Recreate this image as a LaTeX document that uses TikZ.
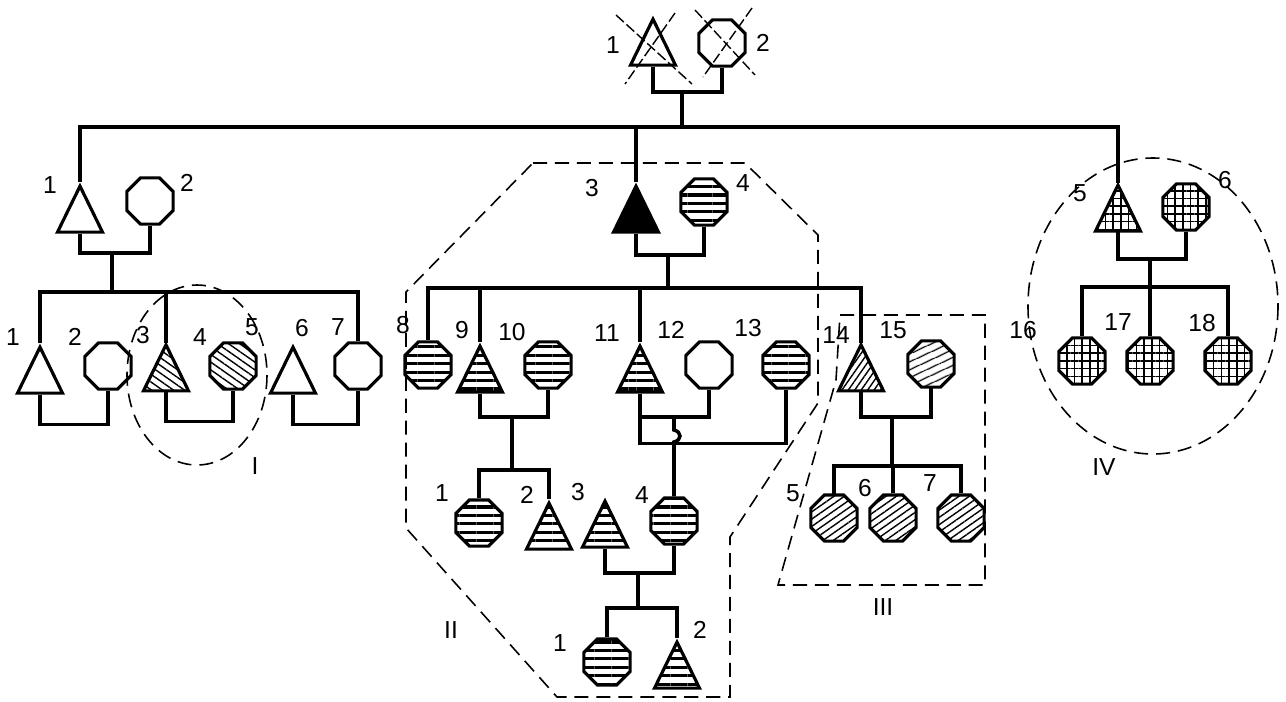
\documentclass[tikz,border=0pt]{standalone}
\usepackage{fontspec}
\setmainfont{Liberation Sans}
\usetikzlibrary{shapes.geometric,patterns.meta}

\begin{document}
\begin{tikzpicture}[x=0.02cm,y=-0.02cm,
  link/.style={line width=2pt},
  male/.style={isosceles triangle,isosceles triangle stretches,shape border rotate=90,
    draw,line width=1.8pt,inner sep=0pt,minimum width=0.9cm,minimum height=0.92cm,anchor=north},
  female/.style={regular polygon,regular polygon sides=8,draw,line width=1.8pt,
    inner sep=0pt,minimum size=1cm},
  hlines/.style={pattern={Lines[angle=0,distance=4.8pt,line width=1.8pt]}},
  nwlines/.style={pattern={Lines[angle=-35,distance=3.6pt,line width=0.8pt]}},
  nelines/.style={pattern={Lines[angle=35,distance=3.4pt,line width=0.8pt]}},
  grid/.style={pattern={Hatch[angle=0,distance=4.4pt,line width=0.9pt]}},
  num/.style={font=\fontsize{14}{16}\selectfont},
  zone/.style={dash pattern=on 8pt off 4.5pt,line width=0.9pt},
  cross/.style={dash pattern=on 6pt off 2pt,line width=0.8pt}]
\useasboundingbox (0,0) rectangle (1286,701);

% generation I
\node[male] (p1) at (653,15) {};
\node[female] (p2) at (722,43) {};
\draw[cross] (616,15) -- (692,84); \draw[cross] (675,13) -- (625,84);
\draw[cross] (695,10) -- (755,75); \draw[cross] (752,8) -- (703,77);
\node[num] (tp1) at (613,45) {1};
\node[num] (tp2) at (763,43) {2};
\coordinate (m0) at (682,92);
\coordinate (r0) at (682,127);
\draw[link] (p1.south) |- (m0) -| (p2.south);
\draw[link] (m0) -- (r0);

% generation II
\node[male] (a1) at (80,182) {};
\node[female] (a2) at (150,201) {};
\node[male,fill=black] (c3) at (636,182) {};
\node[female,hlines] (c4) at (704,202) {};
\node[male,grid] (h5) at (1118,183) {};
\node[female,grid] (h6) at (1186,207) {};
\node[num] (ta1) at (50,185) {1};
\node[num] (ta2) at (187,183) {2};
\node[num] (tc3) at (592,188) {3};
\node[num] (tc4) at (743,183) {4};
\node[num] (th5) at (1080,193) {5};
\node[num] (th6) at (1225,180) {6};
\draw[link] (a1.north) |- (r0) -| (h5.north);
\draw[link] (c3.north) -- (c3.north |- r0);

% left family
\coordinate (m1) at (112,253);
\coordinate (s1) at (112,292);
\draw[link] (a1.south) |- (m1) -| (a2.south);
\draw[link] (m1) -- (s1);
\node[male] (b1) at (40,343) {};
\node[female] (b2) at (108,366) {};
\node[male,nwlines] (b3) at (166,343) {};
\node[female,nwlines] (b4) at (233,366) {};
\node[male] (b6) at (293,343) {};
\node[female] (b7) at (358,366) {};
\draw[link] (b1.north) |- (s1) -| (b7.north);
\draw[link] (b3.north) -- (b3.north |- s1);
\draw[link] (b1.south) -- ++(0,30) -| (b2.south);
\draw[link] (b3.south) -- ++(0,30) -| (b4.south);
\draw[link] (b6.south) -- ++(0,30) -| (b7.south);
\node[num] (tb1) at (13,337) {1};
\node[num] (tb2) at (75,337) {2};
\node[num] (tb3) at (143,335) {3};
\node[num] (tb4) at (200,337) {4};
\node[num] (tb5) at (252,327) {5};
\node[num] (tb6) at (302,328) {6};
\node[num] (tb7) at (338,327) {7};
\draw[zone] (197,375) ellipse (70 and 90);
\node[num] (zI) at (255,466) {I};

% middle family
\coordinate (m2) at (668,255);
\coordinate (s2) at (668,288);
\draw[link] (c3.south) |- (m2) -| (c4.south);
\draw[link] (m2) -- (s2);
\node[female,hlines] (d8) at (428,365) {};
\node[male,hlines] (d9) at (480,342) {};
\node[female,hlines] (d10) at (548,365) {};
\node[male,hlines] (d11) at (640,342) {};
\node[female] (d12) at (709,365) {};
\node[female,hlines] (d13) at (786,365) {};
\node[male,pattern={Lines[angle=55,distance=3pt,line width=0.8pt]}] (d14) at (861,343) {};
\node[female,pattern={Lines[angle=25,distance=4pt,line width=0.8pt]}] (d15) at (931,364) {};
\draw[link] (d8.north) |- (s2) -| (d14.north);
\draw[link] (d9.north) -- (d9.north |- s2);
\draw[link] (d11.north) -- (d11.north |- s2);
\node[num] (td8) at (403,325) {8};
\node[num] (td9) at (462,330) {9};
\node[num] (td10) at (512,332) {10};
\node[num] (td11) at (607,333) {11};
\node[num] (td12) at (671,330) {12};
\node[num] (td13) at (748,328) {13};
\node[num] (td14) at (836,335) {14};
\node[num] (td15) at (893,330) {15};

% generation III
\coordinate (m3) at (512,417);
\coordinate (s3) at (512,470);
\coordinate (m4) at (674,417);
\node[female,hlines] (e1) at (479,523) {};
\node[male,hlines] (e2) at (549,499) {};
\node[male,hlines] (e3) at (605,497) {};
\node[female,hlines] (e4) at (674,521) {};
\draw[link] (d9.south) |- (m3) -| (d10.south);
\draw[link] (m3) -- (s3);
\draw[link] (e1.north) |- (s3) -| (e2.north);
\draw[link] (d11.south) |- (m4) -| (d12.south);
\draw[link] (d11.south) -- ++(0,50) -| (d13.south);
\draw[link] (m4) -- ++(0,13) .. controls +(8,2) and +(8,-2) .. ++(0,12) -- (e4.north);
\node[num] (te1) at (442,493) {1};
\node[num] (te2) at (527,495) {2};
\node[num] (te3) at (578,492) {3};
\node[num] (te4) at (642,495) {4};

% generation IV
\coordinate (m5) at (638,573);
\coordinate (s5) at (638,608);
\node[female,hlines] (f1) at (607,662) {};
\node[male,hlines] (f2) at (677,638) {};
\draw[link] (e3.south) |- (m5) -| (e4.south);
\draw[link] (m5) -- (s5);
\draw[link] (f1.north) |- (s5) -| (f2.north);
\node[num] (tf1) at (560,643) {1};
\node[num] (tf2) at (700,630) {2};
\draw[zone] (533,163) -- (745,163) -- (818,235) -- (818,403) -- (730,537)
  -- (730,697) -- (557,697) -- (406,528) -- (406,292) -- cycle;
\node[num] (zII) at (451,630) {II};

% family of 14 and 15
\coordinate (m6) at (892,417);
\coordinate (s6) at (892,466);
\node[female,nelines] (g5) at (834,518) {};
\node[female,nelines] (g6) at (893,518) {};
\node[female,nelines] (g7) at (961,518) {};
\draw[link] (d14.south) |- (m6) -| (d15.south);
\draw[link] (m6) -- (s6);
\draw[link] (g5.north) |- (s6) -| (g7.north);
\draw[link] (g6.north) -- (g6.north |- s6);
\node[num] (tg5) at (793,493) {5};
\node[num] (tg6) at (865,488) {6};
\node[num] (tg7) at (930,483) {7};
\draw[zone] (840,315) -- (985,315) -- (985,585) -- (778,585) -- (836,380) -- cycle;
\node[num] (zIII) at (883,607) {III};

% right family
\coordinate (m7) at (1150,259);
\coordinate (s7) at (1150,287);
\node[female,grid] (h16) at (1082,361) {};
\node[female,grid] (h17) at (1150,361) {};
\node[female,grid] (h18) at (1228,361) {};
\draw[link] (h5.south) |- (m7) -| (h6.south);
\draw[link] (m7) -- (s7);
\draw[link] (h16.north) |- (s7) -| (h18.north);
\draw[link] (h17.north) -- (h17.north |- s7);
\node[num] (th16) at (1023,330) {16};
\node[num] (th17) at (1118,322) {17};
\node[num] (th18) at (1202,323) {18};
\draw[zone] (1153,306) ellipse (125 and 148);
\node[num] (zIV) at (1104,467) {IV};
\end{tikzpicture}
\end{document}
